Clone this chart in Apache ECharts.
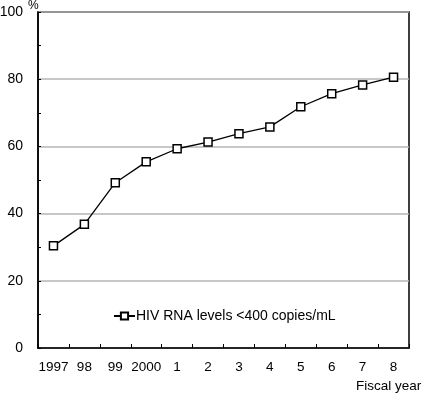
<!DOCTYPE html>
<html>
<head>
<meta charset="utf-8">
<script src="https://cdn.jsdelivr.net/npm/echarts@6/dist/echarts.min.js"></script>
<style>
  html, body { margin: 0; padding: 0; background: #fff; }
  #chart { width: 424px; height: 396px; }
</style>
</head>
<body>
<div id="chart"></div>
<script>
// 数据
var years = ['1997', '98', '99', '2000', '1', '2', '3', '4', '5', '6', '7', '8']
var rnaBelow400 = [30.4, 36.8, 49.2, 55.4, 59.3, 61.3, 63.8, 65.8, 71.8, 75.7, 78.3, 80.6]
var seriesName = 'HIV RNA levels <400 copies/mL'

var fontFamily = '"Liberation Sans", Arial, sans-serif'
var myChart = echarts.init(document.getElementById('chart'))

var option = {
  backgroundColor: '#fff',
  animation: false,
  textStyle: { fontFamily: fontFamily, color: '#000' },
  grid: {
    left: 38, right: 15, top: 12, bottom: 48,
    outerBoundsMode: 'none',
    containLabel: false,
    show: true, borderColor: '#000', borderWidth: 1.5
  },
  legend: {
    left: 113, top: 309, padding: 0,
    itemWidth: 21, itemHeight: 9, itemGap: 4,
    textStyle: { fontFamily: fontFamily, fontSize: 14, color: '#000', padding: [0, 0, 0, -4] },
    data: [seriesName]
  },
  graphic: [
    { type: 'text', left: 28, top: 0, style: { text: '%', font: '12px ' + fontFamily, fill: '#000' } },
    { type: 'text', left: 356, top: 379, style: { text: 'Fiscal year', font: '13.5px ' + fontFamily, fill: '#000' } }
  ],
  xAxis: {
    type: 'category',
    data: years,
    boundaryGap: true,
    axisLine: { lineStyle: { color: '#000', width: 1.5 } },
    axisTick: { show: true, inside: true, length: 4, lineStyle: { color: '#000' } },
    axisLabel: { interval: 0, fontSize: 13.5, color: '#000', margin: 12, fontFamily: fontFamily },
    splitLine: { show: false }
  },
  yAxis: {
    type: 'value',
    min: 0, max: 100, interval: 20,
    axisLine: { show: true, lineStyle: { color: '#000', width: 1.5 } },
    axisTick: { show: true, inside: true, length: 3, lineStyle: { color: '#000' } },
    minorTick: { show: true, splitNumber: 2, length: 3, lineStyle: { color: '#000' } },
    axisLabel: { fontSize: 14, color: '#000', margin: 15, fontFamily: fontFamily },
    splitLine: { show: true, lineStyle: { color: '#b4b4b4', width: 1.5 } }
  },
  series: [
    {
      name: seriesName,
      type: 'line',
      data: rnaBelow400,
      symbol: 'rect',
      symbolSize: 8,
      showAllSymbol: true,
      lineStyle: { color: '#000', width: 1.3 },
      itemStyle: { color: '#fff', borderColor: '#000', borderWidth: 1.5 }
    }
  ]
}

myChart.setOption(option)
</script>
</body>
</html>
